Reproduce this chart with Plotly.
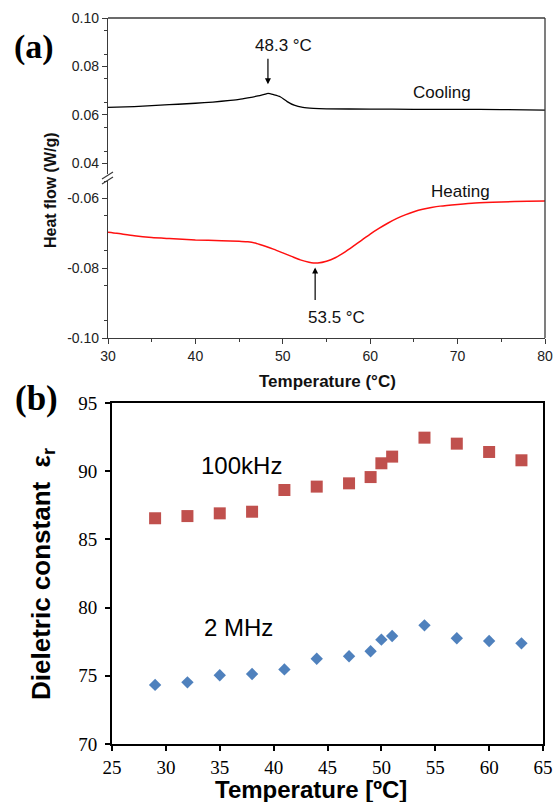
import plotly.graph_objects as go

W, H = 555, 802

def px(x):
    return x / W

def py(y):
    return 1 - y / H

# ---------------- data: panel (a) DSC ----------------
cool_T = [30, 32, 34, 36, 38, 40, 42, 44, 45, 46, 47, 48, 48.3, 49, 49.7, 50.5, 51.3, 52.3,
          53.5, 55, 60, 65, 70, 75, 80]
cool_HF = [0.0631, 0.0633, 0.0636, 0.0640, 0.0644, 0.0648, 0.0653, 0.0660, 0.0664, 0.0670,
           0.0677, 0.0686, 0.0689, 0.0683, 0.0675, 0.0655, 0.0640, 0.0631, 0.0627, 0.0625,
           0.0624, 0.0623, 0.0623, 0.0622, 0.0620]

heat_T = [30, 31, 33, 35, 37, 40, 43, 45, 46, 47, 48, 49, 50, 51, 52, 53, 53.5, 54, 55, 56,
          57, 58, 59, 60, 61, 62, 63, 64, 65, 66, 67, 68, 70, 72, 75, 78, 80]
heat_HF = [-0.0697, -0.0700, -0.0707, -0.0712, -0.0715, -0.0719, -0.0721, -0.0723, -0.0724,
           -0.0729, -0.0737, -0.0746, -0.0756, -0.0766, -0.0776, -0.0783, -0.0785, -0.0785,
           -0.0780, -0.0770, -0.0755, -0.0738, -0.0720, -0.0702, -0.0686, -0.0671, -0.0658,
           -0.0647, -0.0638, -0.0631, -0.0626, -0.0622, -0.0617, -0.0613, -0.0610, -0.0608,
           -0.0607]

a_xticks = [30, 40, 50, 60, 70, 80]
a_yticks_up = [0.04, 0.06, 0.08, 0.10]
a_yticks_up_text = ["0.04", "0.06", "0.08", "0.10"]
a_yticks_lo = [-0.10, -0.08, -0.06]
a_yticks_lo_text = ["-0.10", "-0.08", "-0.06"]

# ---------------- data: panel (b) dielectric ----------------
temp_b = [29, 32, 35, 38, 41, 44, 47, 49, 50, 51, 54, 57, 60, 63]
eps_100k = [86.55, 86.71, 86.91, 87.03, 88.62, 88.87, 89.11, 89.57, 90.58, 91.07, 92.46,
            92.02, 91.41, 90.80]
eps_2M = [74.33, 74.52, 75.04, 75.13, 75.47, 76.25, 76.43, 76.80, 77.65, 77.92, 78.70,
          77.75, 77.55, 77.38]

sans = "Arial, Liberation Sans, sans-serif"
serif = "Times New Roman, Liberation Serif, serif"
axcol = "#3a3a3a"

fig = go.Figure()

fig.add_trace(go.Scatter(x=cool_T, y=cool_HF, mode="lines", line=dict(color="black", width=1.3, shape="spline", smoothing=0.6),
                         xaxis="x", yaxis="y", showlegend=False, hoverinfo="skip"))
fig.add_trace(go.Scatter(x=heat_T, y=heat_HF, mode="lines", line=dict(color="#ff1010", width=1.5, shape="spline", smoothing=0.6),
                         xaxis="x", yaxis="y2", showlegend=False, hoverinfo="skip"))

fig.add_trace(go.Scatter(x=temp_b, y=eps_100k, mode="markers",
                         marker=dict(symbol="square", size=12, color="#C0504D"),
                         xaxis="x3", yaxis="y3", showlegend=False))
fig.add_trace(go.Scatter(x=temp_b, y=eps_2M, mode="markers",
                         marker=dict(symbol="diamond", size=9.5, color="#4F81BD"),
                         xaxis="x3", yaxis="y3", showlegend=False))

a_tick = dict(ticks="outside", ticklen=5, tickwidth=1.2, tickcolor=axcol, showgrid=False, zeroline=False,
              automargin=False,
              showline=True, linecolor=axcol, linewidth=1.3, tickfont=dict(family=sans, size=14, color="#222"))

fig.update_layout(
    width=W, height=H,
    margin=dict(l=0, r=0, t=0, b=0, pad=0),
    paper_bgcolor="white", plot_bgcolor="rgba(0,0,0,0)",
    xaxis=dict(domain=[px(108), px(545)], range=[30, 80], anchor="y2",
               tickvals=a_xticks, minor=dict(dtick=5, tick0=0, ticks="outside", ticklen=3, tickcolor=axcol, showgrid=False),
               **a_tick),
    yaxis=dict(domain=[py(174), py(18)], range=[0.0356, 0.10], anchor="x",
               tickvals=a_yticks_up, ticktext=a_yticks_up_text,
               minor=dict(dtick=0.01, tick0=0.005, ticks="outside", ticklen=3, tickcolor=axcol, showgrid=False),
               **a_tick),
    yaxis2=dict(domain=[py(338), py(181)], range=[-0.10, -0.0550], anchor="x",
                tickvals=a_yticks_lo, ticktext=a_yticks_lo_text,
                minor=dict(dtick=0.01, tick0=0.005, ticks="outside", ticklen=3, tickcolor=axcol, showgrid=False),
                **a_tick),
    xaxis3=dict(domain=[px(112), px(543)], range=[25, 65], anchor="y3", dtick=5, automargin=False,
                ticks="outside", ticklen=5, tickwidth=1.5, tickcolor="black", showgrid=False, zeroline=False,
                showline=True, mirror=True, linecolor="black", linewidth=2,
                tickfont=dict(family=serif, size=19, color="black")),
    yaxis3=dict(domain=[py(744), py(403)], range=[70, 95], anchor="x3", dtick=5, automargin=False,
                ticks="outside", ticklen=5, tickwidth=1.5, tickcolor="black", showgrid=False, zeroline=False,
                showline=True, mirror=True, linecolor="black", linewidth=2, ticklabelstandoff=4,
                tickfont=dict(family=serif, size=19, color="black")),
)

shapes = [
    # top & right frame of panel (a)
    dict(type="line", xref="paper", yref="paper", x0=px(108), x1=px(545), y0=py(18), y1=py(18),
         line=dict(color=axcol, width=1.3)),
    dict(type="line", xref="paper", yref="paper", x0=px(545), x1=px(545), y0=py(18), y1=py(338),
         line=dict(color=axcol, width=1.3)),
    # axis break marks
    dict(type="line", xref="paper", yref="paper", x0=px(102), x1=px(113), y0=py(179), y1=py(172),
         line=dict(color=axcol, width=1.2)),
    dict(type="line", xref="paper", yref="paper", x0=px(102), x1=px(113), y0=py(184), y1=py(177),
         line=dict(color=axcol, width=1.2)),
]
fig.update_layout(shapes=shapes)

def txt(text, x, y, size, family=sans, bold=False, angle=0, color="black"):
    t = f"<b>{text}</b>" if bold else text
    return dict(text=t, x=px(x), y=py(y), xref="paper", yref="paper", showarrow=False,
                xanchor="center", yanchor="middle", textangle=angle,
                font=dict(family=family, size=size, color=color))

ann = [
    txt("(a)", 34, 47, 34, family=serif, bold=True),
    txt("(b)", 36, 398, 35, family=serif, bold=True),
    txt("48.3 °C", 283, 45, 17, color="#111"),
    txt("53.5 °C", 336, 317, 17, color="#111"),
    txt("Cooling", 442, 93, 17, color="#111"),
    txt("Heating", 460, 192, 17, color="#111"),
    txt("Temperature (°C)", 327, 381, 17, bold=True, color="#111"),
    txt("Heat flow (W/g)", 50, 190, 16, bold=True, angle=-90, color="#111"),
    txt("100kHz", 241, 465, 24),
    txt("2 MHz", 238, 627, 24),
    txt("Temperature [ºC]", 311, 789, 24, bold=True),
    txt("Dieletric constant  ε<sub>r</sub>", 42, 574, 26, bold=True, angle=-90),
]
fig.update_layout(annotations=ann)

# arrows as annotation arrows anchored to data coordinates
fig.add_annotation(text="", x=48.3, y=0.0727, xref="x", yref="y", showarrow=True, ax=0, ay=-27,
                   arrowhead=2, arrowsize=1, arrowwidth=1.2, arrowcolor="black")
fig.add_annotation(text="", x=53.7, y=-0.0798, xref="x", yref="y2", showarrow=True, ax=0, ay=34,
                   arrowhead=2, arrowsize=1, arrowwidth=1.2, arrowcolor="black")

fig.write_html("out.html", config={"displayModeBar": False},
               post_script="document.body.style.margin='0px';document.body.style.overflow='hidden';")
